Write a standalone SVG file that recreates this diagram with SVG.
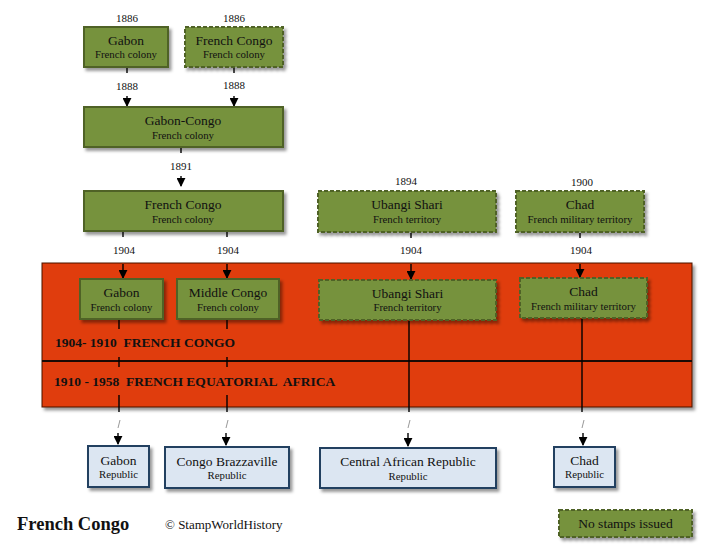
<svg xmlns="http://www.w3.org/2000/svg" width="719" height="556" viewBox="0 0 719 556">
<style>
text{font-family:"Liberation Serif","Times New Roman",serif;fill:#111;text-anchor:middle}
.t{font-size:13.5px}
.s{font-size:10.8px}
.y{font-size:11px}
.g{fill:#76923C;stroke:#4F6228;stroke-width:2}
.gd{fill:#76923C;stroke:#4F6228;stroke-width:2;stroke-dasharray:4 2}
.b{fill:#DCE6F2;stroke:#243F60;stroke-width:2}
.c{stroke:#000;stroke-width:1.4;fill:none}
.sl{stroke:#999;stroke-width:1;fill:none}
.band{font-size:13.5px;font-weight:bold;text-anchor:start}
</style>
<defs>
<filter id="sh" x="-10%" y="-20%" width="130%" height="150%">
<feDropShadow dx="2.5" dy="3" stdDeviation="1.8" flood-color="#000" flood-opacity="0.4"/>
</filter>
<marker id="ar" viewBox="0 0 10 10" refX="9" refY="5" markerWidth="9" markerHeight="9" markerUnits="userSpaceOnUse" orient="auto">
<path d="M0,0 L10,5 L0,10 z" fill="#000"/>
</marker>
</defs>
<rect width="719" height="556" fill="#fff"/>

<g id="band">
<rect x="42" y="263" width="650" height="144" fill="#E03C09" stroke="#4a1505" stroke-width="1" filter="url(#sh)"/>
<line x1="42" y1="361" x2="692" y2="361" stroke="#1a0a04" stroke-width="2"/>
<text class="band" x="55" y="347" xml:space="preserve">1904- 1910  FRENCH CONGO</text>
<text class="band" x="54" y="386" xml:space="preserve">1910 - 1958  FRENCH EQUATORIAL  AFRICA</text>
</g>

<g id="connectors">
<line class="c" x1="127" y1="68" x2="127" y2="73"/>
<line class="c" x1="127" y1="96" x2="127" y2="106" marker-end="url(#ar)"/>
<line class="c" x1="234" y1="68" x2="234" y2="73"/>
<line class="c" x1="234" y1="96" x2="234" y2="106" marker-end="url(#ar)"/>
<line class="c" x1="181" y1="148" x2="181" y2="153"/>
<line class="c" x1="181" y1="176" x2="181" y2="186" marker-end="url(#ar)"/>
<line class="c" x1="123" y1="232" x2="123" y2="237"/>
<line class="c" x1="123" y1="264" x2="123" y2="278" marker-end="url(#ar)"/>
<line class="c" x1="227" y1="232" x2="227" y2="237"/>
<line class="c" x1="227" y1="264" x2="227" y2="278" marker-end="url(#ar)"/>
<line class="c" x1="411" y1="233" x2="411" y2="238"/>
<line class="c" x1="411" y1="264" x2="411" y2="279" marker-end="url(#ar)"/>
<line class="c" x1="580" y1="233" x2="580" y2="238"/>
<line class="c" x1="580" y1="264" x2="580" y2="277" marker-end="url(#ar)"/>
<line class="c" x1="119" y1="320" x2="119" y2="329"/>
<line class="c" x1="119" y1="357" x2="119" y2="367"/>
<line class="c" x1="119" y1="395" x2="119" y2="412"/>
<line class="c" x1="227" y1="320" x2="227" y2="329"/>
<line class="c" x1="227" y1="357" x2="227" y2="367"/>
<line class="c" x1="227" y1="395" x2="227" y2="412"/>
<line class="c" x1="409" y1="321" x2="409" y2="412"/>
<line class="c" x1="582" y1="319" x2="582" y2="412"/>
<line class="sl" x1="120" y1="420" x2="118" y2="428"/>
<line class="sl" x1="228" y1="420" x2="226" y2="428"/>
<line class="sl" x1="410" y1="420" x2="408" y2="428"/>
<line class="sl" x1="584" y1="420" x2="582" y2="428"/>
<line class="c" x1="118" y1="433" x2="118" y2="444" marker-end="url(#ar)"/>
<line class="c" x1="226" y1="433" x2="226" y2="445" marker-end="url(#ar)"/>
<line class="c" x1="408" y1="433" x2="408" y2="446" marker-end="url(#ar)"/>
<line class="c" x1="583" y1="433" x2="583" y2="445" marker-end="url(#ar)"/>
<text class="y" x="127" y="22">1886</text>
<text class="y" x="234" y="22">1886</text>
<text class="y" x="127" y="90">1888</text>
<text class="y" x="234" y="89">1888</text>
<text class="y" x="181" y="170">1891</text>
<text class="y" x="406" y="185">1894</text>
<text class="y" x="582" y="186">1900</text>
<text class="y" x="124" y="254">1904</text>
<text class="y" x="228" y="254">1904</text>
<text class="y" x="411" y="254">1904</text>
<text class="y" x="581" y="254">1904</text>
</g>

<g id="gabon1886">
<rect class="g" x="84" y="27" width="84" height="40" filter="url(#sh)"/>
<text class="t" x="126" y="44.5">Gabon</text>
<text class="s" x="126" y="58">French colony</text>
</g>
<g id="frenchcongo1886">
<rect class="gd" x="185" y="27" width="98" height="40" filter="url(#sh)"/>
<text class="t" x="234" y="44.5">French Congo</text>
<text class="s" x="234" y="58">French colony</text>
</g>
<g id="gaboncongo">
<rect class="g" x="84" y="107" width="199" height="40" filter="url(#sh)"/>
<text class="t" x="183" y="125">Gabon-Congo</text>
<text class="s" x="183" y="139">French colony</text>
</g>
<g id="frenchcongo1891">
<rect class="g" x="84" y="191" width="199" height="40" filter="url(#sh)"/>
<text class="t" x="183" y="209">French Congo</text>
<text class="s" x="183" y="223">French colony</text>
</g>
<g id="ubangi1894">
<rect class="gd" x="318" y="191" width="178" height="41" filter="url(#sh)"/>
<text class="t" x="407" y="209">Ubangi  Shari</text>
<text class="s" x="407" y="223">French territory</text>
</g>
<g id="chad1900">
<rect class="gd" x="516" y="191" width="128" height="41" filter="url(#sh)"/>
<text class="t" x="580" y="209">Chad</text>
<text class="s" x="580" y="223">French military territory</text>
</g>
<g id="gabon1904">
<rect class="g" x="80" y="279" width="83" height="40" filter="url(#sh)"/>
<text class="t" x="121.5" y="297">Gabon</text>
<text class="s" x="121.5" y="311">French colony</text>
</g>
<g id="middlecongo">
<rect class="g" x="177" y="279" width="102" height="40" filter="url(#sh)"/>
<text class="t" x="228" y="297">Middle Congo</text>
<text class="s" x="228" y="311">French colony</text>
</g>
<g id="ubangi1904">
<rect class="gd" x="319" y="280" width="177" height="40" filter="url(#sh)"/>
<text class="t" x="407.5" y="298">Ubangi  Shari</text>
<text class="s" x="407.5" y="311">French territory</text>
</g>
<g id="chad1904">
<rect class="gd" x="520" y="278" width="127" height="40" filter="url(#sh)"/>
<text class="t" x="583.5" y="296">Chad</text>
<text class="s" x="583.5" y="310">French military territory</text>
</g>
<g id="gabonrep">
<rect class="b" x="88" y="446" width="61" height="41" filter="url(#sh)"/>
<text class="t" x="118.5" y="465">Gabon</text>
<text class="s" x="118.5" y="478">Republic</text>
</g>
<g id="congobrazzaville">
<rect class="b" x="165" y="447" width="124" height="41" filter="url(#sh)"/>
<text class="t" x="227" y="466">Congo Brazzaville</text>
<text class="s" x="227" y="479">Republic</text>
</g>
<g id="car">
<rect class="b" x="320" y="448" width="176" height="40" filter="url(#sh)"/>
<text class="t" x="408" y="466">Central African Republic</text>
<text class="s" x="408" y="480">Republic</text>
</g>
<g id="chadrep">
<rect class="b" x="554" y="447" width="61" height="40" filter="url(#sh)"/>
<text class="t" x="584.5" y="465">Chad</text>
<text class="s" x="584.5" y="478">Republic</text>
</g>
<g id="legend">
<rect class="gd" x="559" y="510" width="133" height="27" filter="url(#sh)"/>
<text class="t" x="625.5" y="528">No stamps issued</text>
</g>
<g id="footer">
<text x="17" y="530" style="font-size:18.5px;font-weight:bold;text-anchor:start">French Congo</text>
<text x="165" y="529" style="font-size:13px;text-anchor:start">© StampWorldHistory</text>
</g>
</svg>
